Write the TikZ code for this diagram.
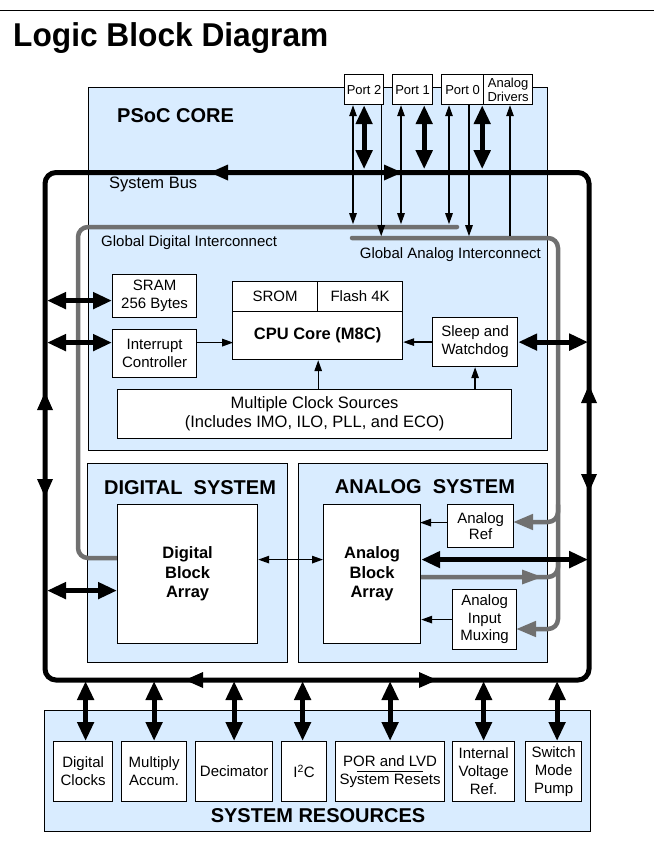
\documentclass[tikz,border=0pt]{standalone}
\usepackage{fontspec}
\setmainfont{Liberation Sans}
\newfontfamily\titlefont[FakeStretch=0.96]{Liberation Sans}
\usetikzlibrary{arrows.meta}
\definecolor{coreblue}{RGB}{217,236,255}
\definecolor{igray}{RGB}{112,112,112}
\newcommand\fsz[2]{\fontsize{#1pt}{#2pt}\selectfont}
\tikzset{
  sz/.style 2 args={minimum width=#1pt, minimum height=#2pt},
  blk/.style={draw, line width=1.2pt, fill=white, inner sep=0pt, align=center, anchor=north west, font=\fsz{15}{18}},
  bluebox/.style={draw, line width=1.4pt, fill=coreblue, inner sep=0pt, anchor=north west},
  portbox/.style={blk, font=\fsz{13}{14}},
  boldtxt/.style={font=\bfseries\fsz{16.5}{19.5}},
  headtxt/.style={font=\bfseries\fsz{20}{24}, inner sep=0pt},
  lbl/.style={font=\fsz{15}{18}, inner sep=0pt},
  thinar/.style={line width=1.3pt, -{Triangle[length=11pt,width=7.5pt]}},
  thinboth/.style={line width=1.3pt, {Triangle[length=11pt,width=7.5pt]}-{Triangle[length=11pt,width=7.5pt]}},
  thickboth/.style={line width=5pt, {Triangle[length=19pt,width=16pt]}-{Triangle[length=19pt,width=16pt]}},
  busline/.style={line width=5pt, rounded corners=11pt},
  gline/.style={line width=4.5pt, draw=igray, rounded corners=10pt, line cap=round},
  garrow/.style={gline, -{Triangle[length=20pt,width=15pt]}},
  bushead/.pic={\fill (0,0) -- (-18,-8) -- (-18,8) -- cycle;},
  grayhead/.pic={\fill[igray] (0,0) -- (-20,-7.5) -- (-20,7.5) -- cycle;},
}
\begin{document}
\begin{tikzpicture}[x=1pt,y=-1pt]
\useasboundingbox (0,0) rectangle (654,846);
% header
\draw[line width=1.3pt] (0,10.7) -- (654,10.7);
\node[anchor=base west, inner sep=0pt, font=\titlefont\bfseries\fsz{33}{38}] (title) at (13,46.7) {Logic Block Diagram};

% blue containers
\node[bluebox, sz={459}{363}] (core) at (88,87) {};
\node[bluebox, sz={200}{199}] (dsys) at (87,463) {};
\node[bluebox, sz={249}{199}] (asys) at (298,463) {};
\node[bluebox, sz={546}{121}] (sysres) at (44,710) {};

% ports
\node[portbox, sz={39}{30}] (port2) at (344,74) {Port 2};
\node[portbox, sz={40}{30}] (port1) at (392,74) {Port 1};
\node[portbox, sz={42}{30}] (port0) at (441,74) {Port 0};
\node[portbox, sz={49}{30}] (adrv) at (483,74) {Analog\\Drivers};

% global interconnect lines
\coordinate (gdiEnd) at (457,227);
\coordinate (gaiStart) at (352,238);
\coordinate (gaiAD) at (510,236);
\draw[gline] (gdiEnd) -- (78,227) -- (78,558) -- (117,558);
\draw[garrow] (gaiStart) -- (558,238) -- (558,629) -- (516,629);
\draw[garrow] (558,505) -- (558,522) -- (513,522);
\draw[gline] (420,577) -- (558,577) -- (558,560);
\pic at (542,577) {grayhead};

% system bus
\draw[busline] (45,172.5) rectangle (589,680);
\pic[rotate=180] at (210,172.5) {bushead};
\pic at (402,172.5) {bushead};
\pic[rotate=90] at (45,392) {bushead};
\pic[rotate=-90] at (45,497) {bushead};
\pic[rotate=90] at (589,385) {bushead};
\pic[rotate=-90] at (589,492) {bushead};
\pic[rotate=180] at (185,680) {bushead};
\pic at (437,680) {bushead};

% core blocks
\node[blk, sz={84}{43}] (sram) at (112,274) {SRAM\\256 Bytes};
\node[blk, sz={84}{48}] (intc) at (112,329) {Interrupt\\Controller};
\node[blk, sz={85}{30}] (srom) at (232,281) {SROM};
\node[blk, sz={85}{30}] (flash) at (317,281) {Flash 4K};
\node[blk, boldtxt, sz={170}{48}] (cpucore) at (232,311) {CPU Core (M8C)};
\node[blk, sz={85}{49}] (sleep) at (432,317) {Sleep and\\Watchdog};
\node[blk, sz={394}{49}, font=\fsz{16.5}{19}] (clock) at (117,389) {Multiple Clock Sources\\(Includes IMO, ILO, PLL, and ECO)};

% digital / analog systems
\node[blk, boldtxt, sz={140}{139}] (dba) at (117,504) {Digital\\Block\\Array};
\node[blk, boldtxt, sz={97}{139}] (aba) at (323,504) {Analog\\Block\\Array};
\node[blk, sz={66}{43}, font=\fsz{15}{16.5}] (aref) at (447,504) {Analog\\Ref};
\node[blk, sz={64}{60}, font=\fsz{15}{17.5}] (amux) at (452,589) {Analog\\Input\\Muxing};

% system resources
\node[blk, sz={59}{60}] (dclk) at (53,741) {Digital\\Clocks};
\node[blk, sz={65}{60}] (mac) at (121,741) {Multiply\\Accum.};
\node[blk, sz={77}{60}] (dec) at (195,741) {Decimator};
\node[blk, sz={45}{60}] (i2c) at (281,741) {I\textsuperscript{2}C};
\node[blk, sz={109}{60}] (por) at (335,741) {POR and LVD\\System Resets};
\node[blk, sz={62}{60}] (ivr) at (452,741) {Internal\\Voltage\\Ref.};
\node[blk, sz={56}{60}] (smp) at (525,741) {Switch\\Mode\\Pump};
\draw[line width=1pt] ([xshift=-33pt]por.center) -- ([xshift=33pt]por.center);

% labels
\node[headtxt, anchor=west] (psoclbl) at (117,116) {PSoC CORE};
\node[lbl, anchor=west, font=\fsz{16.5}{19}] (buslbl) at (109,184) {System Bus};
\node[lbl, anchor=west] (gdilbl) at (101,243) {Global Digital Interconnect};
\node[lbl, anchor=east] (gailbl) at (541,255) {Global Analog Interconnect};
\node[headtxt] (dsyslbl) at (190,488) {DIGITAL\ \ SYSTEM};
\node[headtxt] (asyslbl) at (425,487) {ANALOG\ \ SYSTEM};
\node[headtxt] (srlbl) at (318,816) {SYSTEM RESOURCES};

% port connections
\draw[thinboth] ([xshift=9pt]port2.south west) -- ++(0,119);
\draw[thickboth] (port2.south) -- ++(0,64);
\draw[thinar] ([xshift=-3pt]port2.south east) -- ++(0,131);
\draw[thinboth] ([xshift=9pt]port1.south west) -- ++(0,119);
\draw[thickboth] ([xshift=-9pt]port1.south east) -- ++(0,64);
\draw[thinboth] ([xshift=8pt]port0.south west) -- ++(0,119);
\draw[thinar] ([xshift=28pt]port0.south west) -- ++(0,131);
\draw[thickboth] ([xshift=-2pt]port0.south east) -- ++(0,64);
\draw[thinar] (gaiAD) -- (adrv.south -| gaiAD);

% core connections
\draw[thickboth] ([yshift=-4.5pt]sram.west) -- ++(-65,0);
\draw[thickboth] ([yshift=11pt]intc.west) -- ++(-65,0);
\draw[thickboth] (sleep.east) -- ++(70,0);
\draw[thinar] ([yshift=11pt]intc.east) -- ++(36,0);
\draw[thinar] (sleep.west) -- (sleep.west -| cpucore.east);
\draw[thinar] (clock.north -| srom.east) -- (cpucore.south -| srom.east);
\draw[thinar] (clock.north -| sleep.south) -- (sleep.south);

% system connections
\draw[thickboth] ([yshift=-16.5pt]dba.west) -- ++(-70,0);
\draw[thickboth] ([yshift=14.5pt]aba.east) -- ++(167,0);
\draw[thinboth] ([yshift=14.5pt]dba.east) -- ([yshift=14.5pt]aba.west);
\draw[thinar] ([yshift=3.5pt]aref.west) -- ++(-27,0);
\draw[thinar] (amux.west) -- (amux.west -| aba.east);

% resources connections
\draw[thickboth] ([xshift=2.5pt]dclk.north) -- ++(0,-60);
\draw[thickboth] (mac.north) -- ++(0,-60);
\draw[thickboth] (dec.north) -- ++(0,-60);
\draw[thickboth] ([xshift=-1.5pt]i2c.north) -- ++(0,-60);
\draw[thickboth] (por.north) -- ++(0,-60);
\draw[thickboth] (ivr.north) -- ++(0,-60);
\draw[thickboth] ([xshift=3.5pt]smp.north) -- ++(0,-60);
\end{tikzpicture}
\end{document}
